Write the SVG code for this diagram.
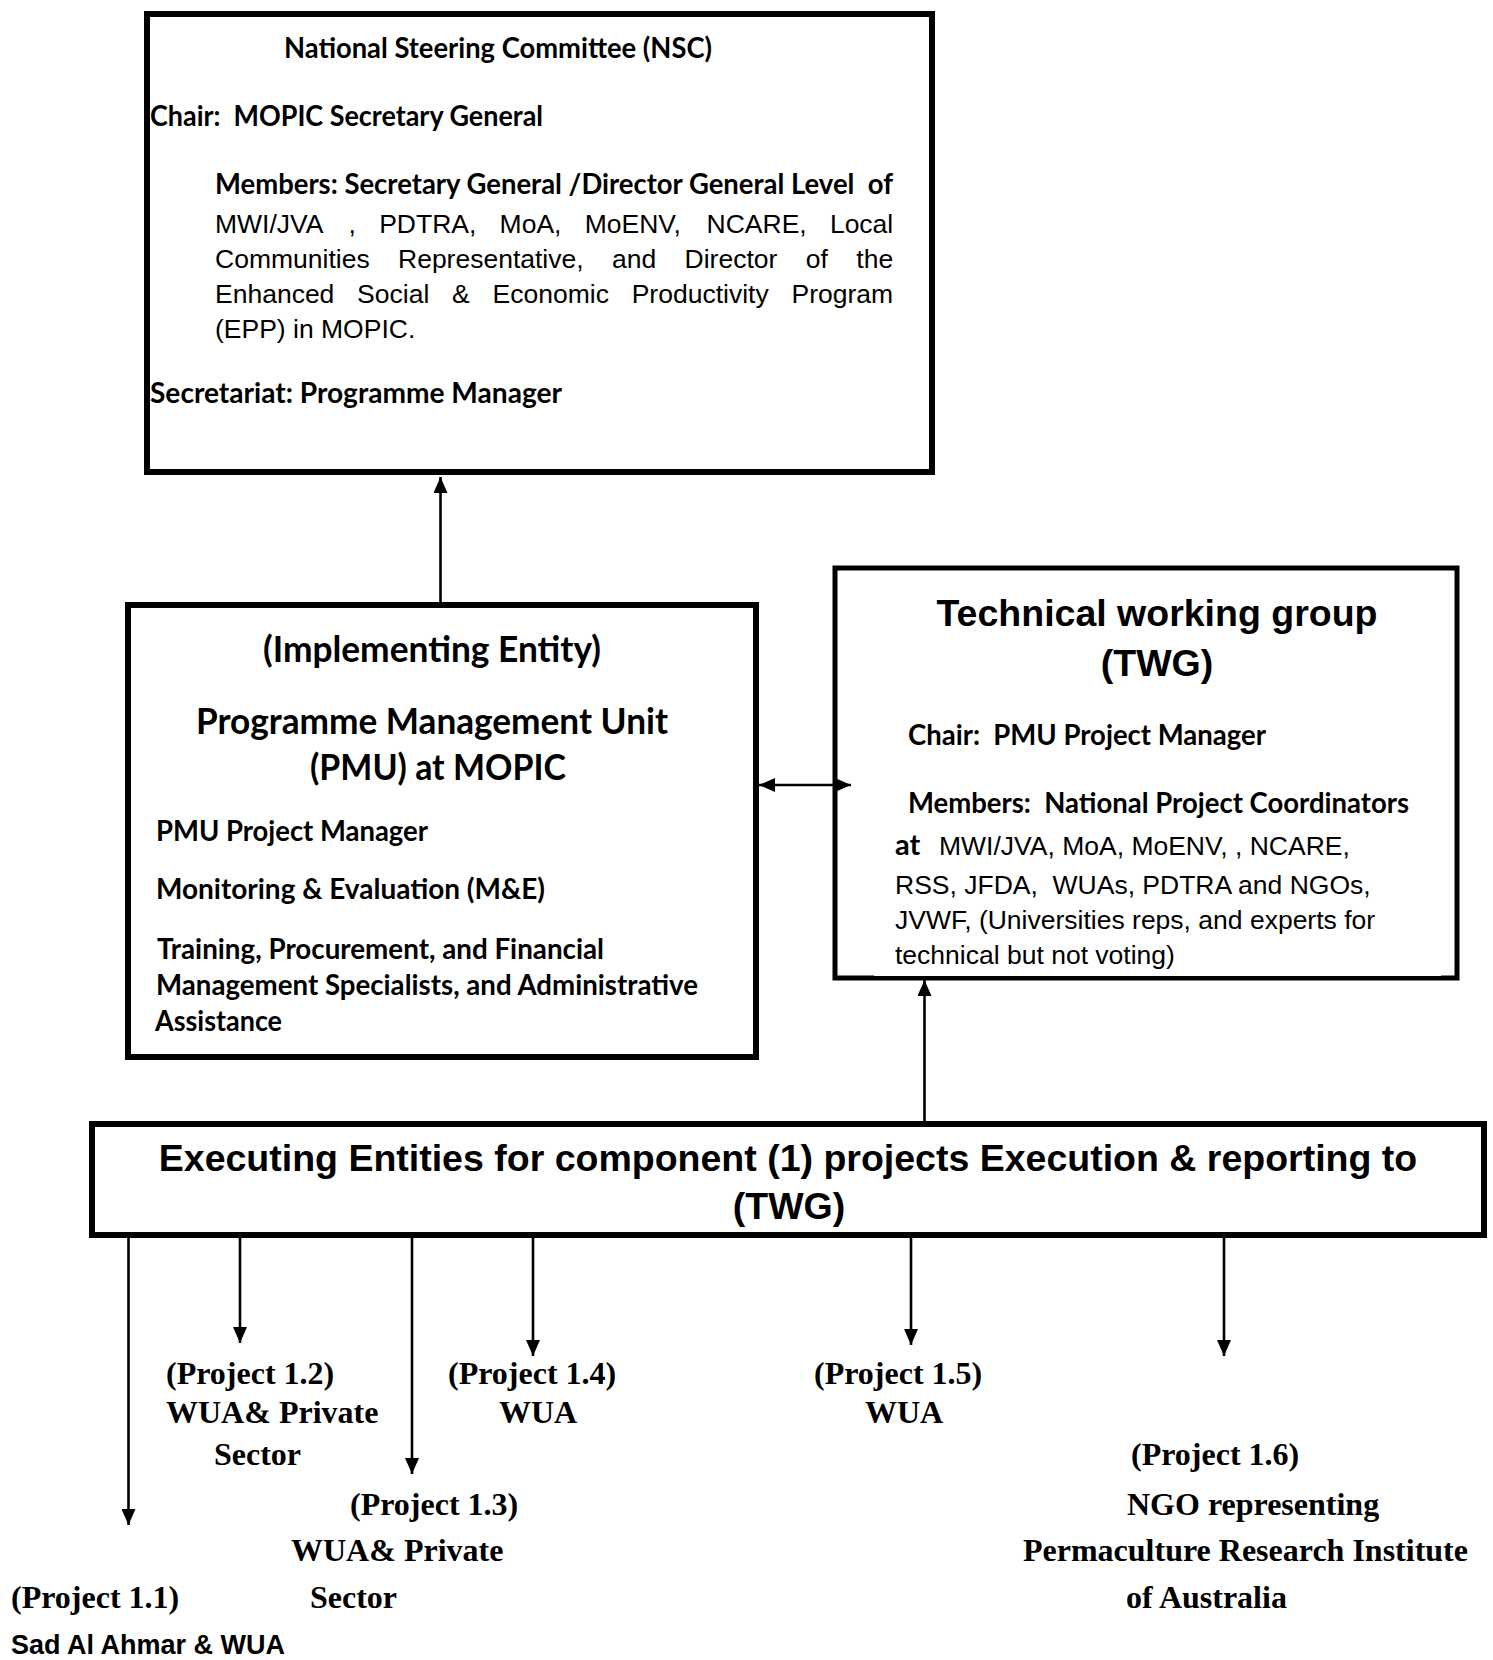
<svg xmlns="http://www.w3.org/2000/svg" width="1493" height="1660" viewBox="0 0 1493 1660">
<defs>
<style>
text { white-space: pre; fill: #000; }
.box { fill: #fff; stroke: #000; }
.cal { font-family: Lato, "Open Sans", sans-serif; font-weight: bold; }
.ar { font-family: "Liberation Sans", Arial, sans-serif; font-size: 26.5px; }
.arb { font-family: "Liberation Sans", Arial, sans-serif; font-weight: bold; }
.tm { font-family: "Liberation Serif", "Times New Roman", serif; font-weight: bold; font-size: 32px; }
.c29 { font-size: 29px; }
.c37 { font-size: 37px; }
.conn { stroke: #000; stroke-width: 2.6; fill: none; }
</style>
<marker id="ah" viewBox="0 0 16 14" refX="16" refY="7" markerWidth="16" markerHeight="14" markerUnits="userSpaceOnUse" orient="auto-start-reverse">
<path d="M0,0 L16,7 L0,14 z" fill="#000"/>
</marker>
</defs>
<rect width="1493" height="1660" fill="#fff"/>

<g id="nsc">
<rect class="box" x="147" y="14" width="785" height="458" stroke-width="6"/>
<text class="cal c29" x="284" y="58" textLength="428" lengthAdjust="spacingAndGlyphs">National Steering Committee (NSC)</text>
<text class="cal c29" x="150" y="126" textLength="393" lengthAdjust="spacingAndGlyphs">Chair:  MOPIC Secretary General</text>
<text class="cal c29" x="215" y="194" textLength="678" lengthAdjust="spacingAndGlyphs">Members: Secretary General /Director General Level  of</text>
<text class="ar" y="233"><tspan x="215">MWI/JVA</tspan><tspan x="348.6">,</tspan><tspan x="379.2">PDTRA,</tspan><tspan x="499.6">MoA,</tspan><tspan x="584.7">MoENV,</tspan><tspan x="706.6">NCARE,</tspan><tspan x="829.9">Local</tspan></text>
<text class="ar" y="268"><tspan x="215">Communities</tspan><tspan x="398">Representative,</tspan><tspan x="612">and</tspan><tspan x="684.6">Director</tspan><tspan x="805.8">of</tspan><tspan x="856.3">the</tspan></text>
<text class="ar" y="303"><tspan x="215">Enhanced</tspan><tspan x="357.1">Social</tspan><tspan x="452.1">&amp;</tspan><tspan x="492.6">Economic</tspan><tspan x="631.7">Productivity</tspan><tspan x="791.5">Program</tspan></text>
<text class="ar" x="215" y="338">(EPP) in MOPIC.</text>
<text class="cal c29" x="150" y="403" textLength="412" lengthAdjust="spacingAndGlyphs">Secretariat: Programme Manager</text>
</g>

<g id="pmu">
<rect class="box" x="128" y="605" width="628" height="452" stroke-width="6"/>
<text class="cal c37" x="263" y="662" textLength="338" lengthAdjust="spacingAndGlyphs">(Implementing Entity)</text>
<text class="cal c37" x="196" y="734" textLength="472" lengthAdjust="spacingAndGlyphs">Programme Management Unit</text>
<text class="cal c37" x="310" y="780" textLength="256" lengthAdjust="spacingAndGlyphs">(PMU) at MOPIC</text>
<text class="cal c29" x="156" y="841" textLength="272" lengthAdjust="spacingAndGlyphs">PMU Project Manager</text>
<text class="cal c29" x="156" y="899" textLength="389" lengthAdjust="spacingAndGlyphs">Monitoring &amp; Evaluation (M&amp;E)</text>
<text class="cal c29" x="157" y="959" textLength="447" lengthAdjust="spacingAndGlyphs">Training, Procurement, and Financial</text>
<text class="cal c29" x="156" y="995" textLength="542" lengthAdjust="spacingAndGlyphs">Management Specialists, and Administrative</text>
<text class="cal c29" x="155" y="1031" textLength="127" lengthAdjust="spacingAndGlyphs">Assistance</text>
</g>

<g id="twg">
<rect class="box" x="835" y="568" width="622" height="410" stroke-width="5"/>
<rect x="874" y="973.5" width="567" height="2.5" fill="#fff"/>
<text class="arb" x="1157" y="626" font-size="37.5" text-anchor="middle">Technical working group</text>
<text class="arb" x="1157" y="676" font-size="37.5" text-anchor="middle">(TWG)</text>
<text class="cal c29" x="908" y="745" textLength="358" lengthAdjust="spacingAndGlyphs">Chair:  PMU Project Manager</text>
<text class="cal c29" x="908" y="813" textLength="501" lengthAdjust="spacingAndGlyphs">Members:  National Project Coordinators</text>
<text class="cal c29" x="895" y="855">at</text>
<text class="ar" x="939" y="855">MWI/JVA, MoA, MoENV, , NCARE,</text>
<text class="ar" x="895" y="894">RSS, JFDA,  WUAs, PDTRA and NGOs,</text>
<text class="ar" x="895" y="929">JVWF, (Universities reps, and experts for</text>
<text class="ar" x="895" y="964">technical but not voting)</text>
</g>

<g id="executing">
<rect class="box" x="92" y="1124" width="1392" height="111" stroke-width="6"/>
<text class="arb" x="788" y="1171" font-size="37.5" text-anchor="middle">Executing Entities for component (1) projects Execution &amp; reporting to</text>
<text class="arb" x="789" y="1219" font-size="37.5" text-anchor="middle">(TWG)</text>
</g>

<g id="project-1-1">
<text class="tm" x="11" y="1608">(Project 1.1)</text>
<text class="arb" x="11" y="1654" font-size="27">Sad Al Ahmar &amp; WUA</text>
</g>
<g id="project-1-2">
<text class="tm" x="166" y="1384">(Project 1.2)</text>
<text class="tm" x="166" y="1423">WUA&amp; Private</text>
<text class="tm" x="214" y="1465">Sector</text>
</g>
<g id="project-1-3">
<text class="tm" x="350" y="1515">(Project 1.3)</text>
<text class="tm" x="291" y="1561">WUA&amp; Private</text>
<text class="tm" x="310" y="1608">Sector</text>
</g>
<g id="project-1-4">
<text class="tm" x="448" y="1384">(Project 1.4)</text>
<text class="tm" x="499" y="1423">WUA</text>
</g>
<g id="project-1-5">
<text class="tm" x="814" y="1384">(Project 1.5)</text>
<text class="tm" x="865" y="1423">WUA</text>
</g>
<g id="project-1-6">
<text class="tm" x="1131" y="1465">(Project 1.6)</text>
<text class="tm" x="1127" y="1515">NGO representing</text>
<text class="tm" x="1023" y="1561">Permaculture Research Institute</text>
<text class="tm" x="1126" y="1608">of Australia</text>
</g>

<g id="connectors">
<line class="conn" x1="440.5" y1="602" x2="440.5" y2="477" marker-end="url(#ah)"/>
<line class="conn" x1="759" y1="785" x2="851" y2="785" marker-start="url(#ah)" marker-end="url(#ah)"/>
<line class="conn" x1="924.5" y1="1121" x2="924.5" y2="980" marker-end="url(#ah)"/>
<line class="conn" x1="128.5" y1="1237" x2="128.5" y2="1525" marker-end="url(#ah)"/>
<line class="conn" x1="240" y1="1237" x2="240" y2="1343" marker-end="url(#ah)"/>
<line class="conn" x1="412" y1="1237" x2="412" y2="1474" marker-end="url(#ah)"/>
<line class="conn" x1="533" y1="1237" x2="533" y2="1356" marker-end="url(#ah)"/>
<line class="conn" x1="911" y1="1237" x2="911" y2="1345" marker-end="url(#ah)"/>
<line class="conn" x1="1224" y1="1237" x2="1224" y2="1356" marker-end="url(#ah)"/>
</g>
</svg>
